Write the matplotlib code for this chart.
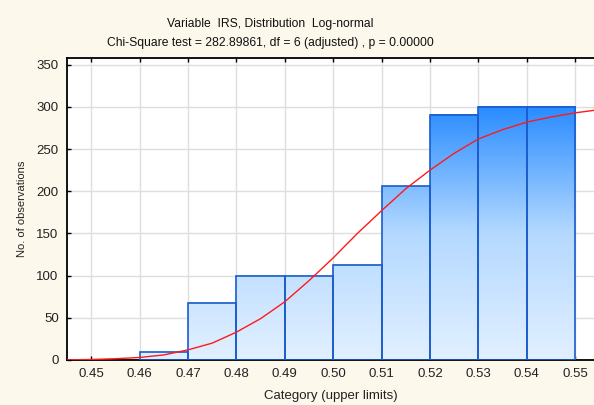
import numpy as np
import matplotlib
matplotlib.use("Agg")
import matplotlib.pyplot as plt
from matplotlib.colors import LinearSegmentedColormap
from matplotlib.patches import Rectangle

# ---- data ----
upper_limits = [0.46, 0.47, 0.48, 0.49, 0.50, 0.51, 0.52, 0.53, 0.54, 0.55]
counts = [0, 10, 68, 100, 100, 113, 206, 291, 300, 300]
bin_width = 0.01

curve_x = [0.445, 0.45, 0.455, 0.46, 0.465, 0.47, 0.475, 0.48, 0.485, 0.49,
           0.495, 0.50, 0.505, 0.51, 0.515, 0.52, 0.525, 0.53, 0.535, 0.54,
           0.545, 0.55, 0.554]
curve_y = [0.2, 0.6, 1.5, 3, 6, 12, 20, 33, 49, 69,
           94, 121, 150, 177, 203, 225, 245, 262, 273, 282,
           288, 293, 296]

x_ticks = [0.45, 0.46, 0.47, 0.48, 0.49, 0.50, 0.51, 0.52, 0.53, 0.54, 0.55]
y_ticks = [0, 50, 100, 150, 200, 250, 300, 350]

title1 = "Variable  IRS, Distribution  Log-normal"
title2 = "Chi-Square test = 282.89861, df = 6 (adjusted) , p = 0.00000"
xlabel = "Category (upper limits)"
ylabel = "No. of observations"

# ---- styling ----
plt.rcParams['font.family'] = ['Liberation Sans', 'DejaVu Sans']
bg = '#fdf8ec'
fig = plt.figure(figsize=(5.94, 4.05), dpi=100, facecolor=bg)
ax = fig.add_axes([67/594, 45/405, 1 - 67/594, (360-58)/405])
ax.set_facecolor('white')

xlim = (0.445, 0.5539)
ylim = (0, 358)

cmap = LinearSegmentedColormap.from_list('bl', ['#e2f0ff', '#b4d9ff', '#2a8cff'],)
for ul, c in zip(upper_limits, counts):
    if c <= 0:
        continue
    x0 = ul - bin_width
    grad = np.linspace(0, c, 200).reshape(-1, 1)
    ax.imshow(grad, extent=(x0, ul, 0, c), origin='lower', aspect='auto',
              cmap=cmap, vmin=0, vmax=300, interpolation='bilinear', zorder=2)
    ax.add_patch(Rectangle((x0, 0), bin_width, c, fill=False,
                           edgecolor='#1a5ccc', linewidth=1.2, zorder=3))

ax.plot(curve_x, curve_y, color='#ff1a1a', lw=1.0, zorder=4)

ax.set_xlim(*xlim)
ax.set_ylim(*ylim)
ax.set_xticks(x_ticks)
ax.set_xticklabels([f"{v:.2f}" for v in x_ticks])
ax.set_yticks(y_ticks)
ax.grid(True, color='#dedede', lw=1.0, zorder=0)
ax.set_axisbelow(True)

for s in ['left', 'bottom', 'top']:
    ax.spines[s].set_color('black')
    ax.spines[s].set_linewidth(1.3)
ax.spines['right'].set_visible(False)
ax.tick_params(axis='both', direction='in', length=3, width=1, colors='black',
               labelcolor='#222222', labelsize=9.5, top=True, pad=6)

ax.set_xlabel(xlabel, fontsize=9.5, color='#222222', labelpad=7)
ax.set_ylabel(ylabel, fontsize=8, color='#222222', va='center')
ax.yaxis.set_label_coords(-45/527, 0.5)

fig.text(270/594, 1 - 24/405, title1, ha='center', va='center', fontsize=8.7, color='#111111')
fig.text(270/594, 1 - 43/405, title2, ha='center', va='center', fontsize=8.7, color='#111111')

fig.savefig('out.png', dpi=100, facecolor=bg)
